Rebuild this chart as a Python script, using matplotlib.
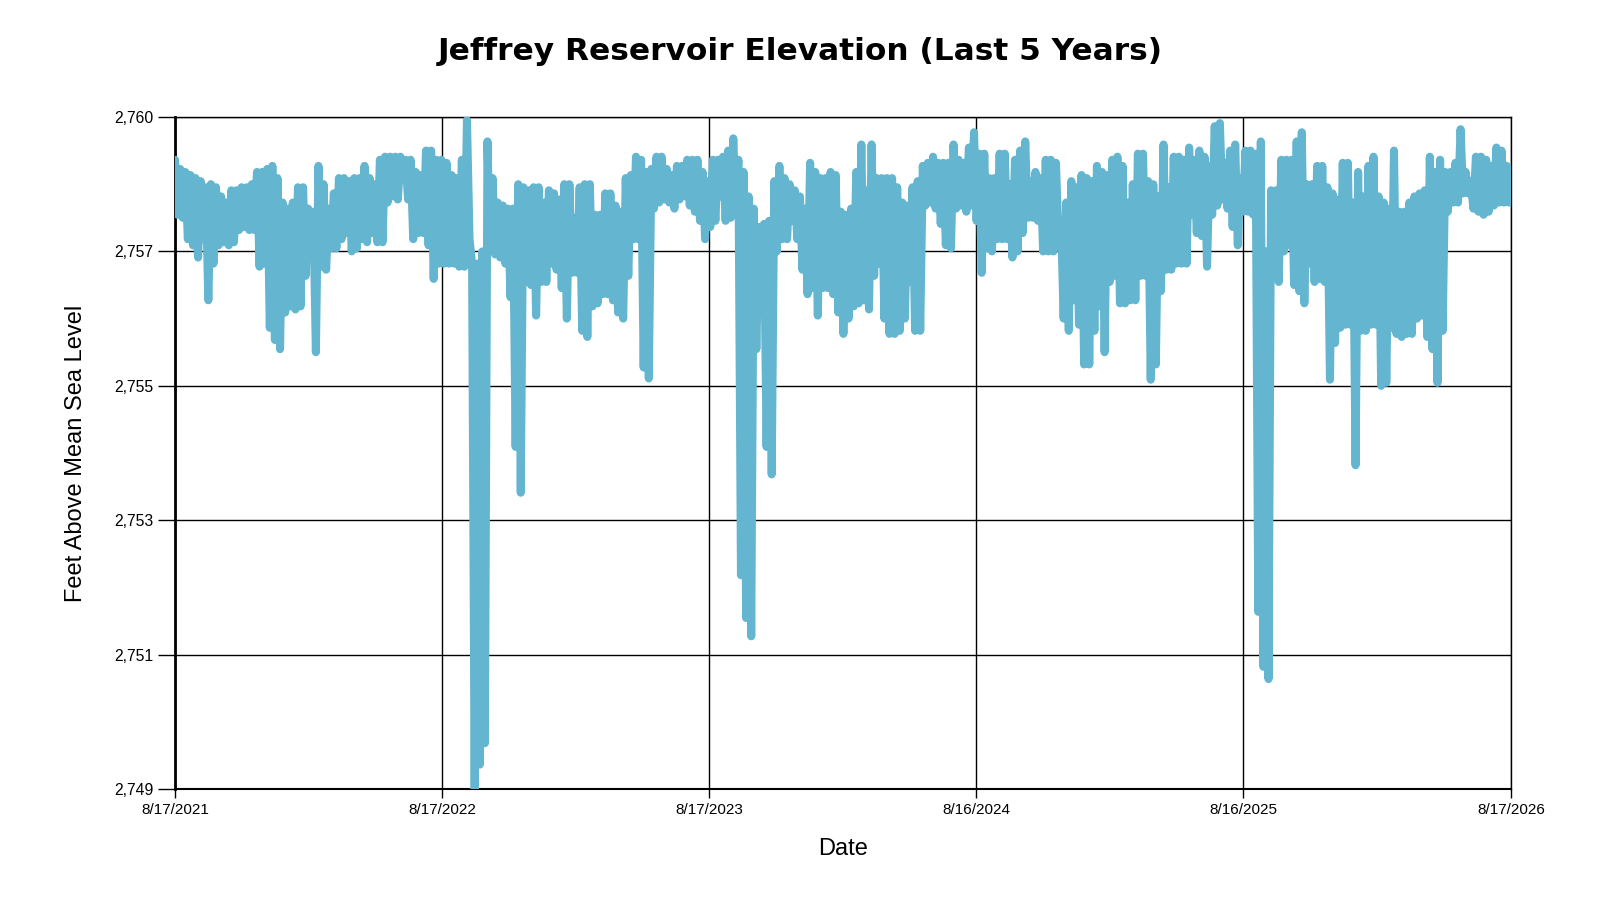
import numpy as np
import pandas as pd
import matplotlib
matplotlib.use("Agg")
import matplotlib.pyplot as plt
from matplotlib.ticker import FixedLocator, FuncFormatter
import matplotlib.dates as mdates

# weekly high / low readings (feet above mean sea level), week of 8/17/2021 onwards
elev_high = [
    2759.3, 2759.15, 2759.1, 2759.05, 2759.0, 2758.95, 2758.85, 2758.9, 2758.85, 2758.7,
    2758.6, 2758.8, 2758.8, 2758.85, 2758.85, 2758.9, 2759.1, 2759.1, 2759.15, 2759.2,
    2759.0, 2758.6, 2758.5, 2758.6, 2758.85, 2758.85, 2758.5, 2758.45, 2759.2, 2758.9,
    2758.5, 2758.75, 2759.0, 2759.0, 2758.95, 2759.0, 2759.0, 2759.2, 2759.0, 2758.9,
    2759.3, 2759.35, 2759.35, 2759.35, 2759.35, 2759.3, 2759.3, 2759.1, 2759.05, 2759.45,
    2759.45, 2759.3, 2759.3, 2759.25, 2759.05, 2759.0, 2759.3, 2759.95, 2757.6, 2757.6,
    2757.8, 2759.6, 2759.0, 2758.6, 2758.55, 2758.5, 2758.5, 2758.9, 2758.85, 2758.8,
    2758.85, 2758.85, 2758.6, 2758.8, 2758.75, 2758.65, 2758.9, 2758.9, 2758.35, 2758.85,
    2758.9, 2758.9, 2758.4, 2758.4, 2758.75, 2758.75, 2758.55, 2758.45, 2759.0, 2759.05,
    2759.35, 2759.3, 2759.1, 2759.15, 2759.35, 2759.35, 2759.15, 2759.05, 2759.2, 2759.2,
    2759.3, 2759.3, 2759.3, 2759.1, 2758.95, 2759.3, 2759.3, 2759.35, 2759.45, 2759.65,
    2759.3, 2759.1, 2758.7, 2758.5, 2758.2, 2758.25, 2758.3, 2758.95, 2759.2, 2759.0,
    2758.9, 2758.8, 2758.7, 2758.5, 2759.25, 2759.1, 2759.0, 2759.0, 2759.1, 2759.05,
    2758.45, 2758.4, 2758.5, 2759.1, 2759.55, 2758.8, 2759.55, 2759.0, 2759.0, 2759.0,
    2759.0, 2758.85, 2758.6, 2758.55, 2758.85, 2758.95, 2759.2, 2759.25, 2759.35, 2759.25,
    2759.25, 2759.25, 2759.55, 2759.3, 2759.25, 2759.5, 2759.75, 2759.4, 2759.4, 2759.0,
    2759.0, 2759.4, 2759.4, 2758.9, 2759.3, 2759.45, 2759.6, 2758.95, 2759.1, 2759.0,
    2759.3, 2759.3, 2759.25, 2758.3, 2758.6, 2758.95, 2758.85, 2759.05, 2759.0, 2758.95,
    2759.2, 2759.1, 2759.05, 2759.3, 2759.35, 2759.2, 2758.6, 2758.9, 2759.4, 2759.4,
    2758.95, 2758.9, 2758.7, 2759.55, 2758.85, 2759.35, 2759.35, 2759.3, 2759.5, 2759.3,
    2759.45, 2759.35, 2759.2, 2759.85, 2759.9, 2759.25, 2759.45, 2759.55, 2759.0, 2759.45,
    2759.45, 2759.4, 2759.6, 2757.8, 2758.8, 2758.8, 2759.3, 2759.3, 2759.3, 2759.6,
    2759.75, 2758.9, 2758.9, 2759.2, 2759.2, 2758.85, 2758.75, 2758.65, 2759.25, 2759.25,
    2758.6, 2759.1, 2758.7, 2759.2, 2759.35, 2758.7, 2758.6, 2758.5, 2759.45, 2758.45,
    2758.45, 2758.6, 2758.7, 2758.75, 2758.8, 2759.35, 2759.1, 2759.3, 2759.1, 2759.1,
    2759.25, 2759.8, 2759.1, 2758.95, 2759.35, 2759.35, 2759.3, 2759.2, 2759.5, 2759.45,
    2759.2,
]
elev_low = [
    2758.4, 2758.35, 2758.0, 2757.9, 2757.7, 2758.0, 2757.0, 2757.6, 2757.9, 2757.95,
    2757.9, 2757.95, 2758.15, 2758.2, 2758.15, 2758.15, 2757.55, 2757.6, 2756.55, 2756.35,
    2756.2, 2756.8, 2756.9, 2756.85, 2756.9, 2757.4, 2757.9, 2756.15, 2757.55, 2757.5,
    2757.85, 2757.85, 2758.0, 2758.1, 2757.8, 2757.85, 2758.0, 2757.95, 2758.1, 2757.95,
    2757.95, 2758.6, 2758.7, 2758.65, 2759.0, 2758.65, 2758.0, 2758.1, 2758.1, 2757.9,
    2757.35, 2757.6, 2757.6, 2757.6, 2757.6, 2757.55, 2757.55, 2758.0, 2749.0, 2749.4,
    2749.75, 2757.8, 2757.75, 2757.7, 2757.6, 2757.05, 2754.6, 2753.85, 2757.3, 2757.25,
    2756.75, 2757.3, 2757.3, 2757.6, 2757.5, 2757.2, 2756.7, 2757.45, 2757.45, 2756.5,
    2756.4, 2756.9, 2756.95, 2757.1, 2757.1, 2757.0, 2756.8, 2756.7, 2757.4, 2758.0,
    2758.0, 2755.9, 2755.72, 2758.5, 2758.6, 2758.65, 2758.6, 2758.5, 2758.65, 2758.7,
    2758.55, 2758.45, 2758.3, 2758.0, 2758.2, 2758.3, 2758.7, 2758.3, 2758.35, 2758.4,
    2752.5, 2751.8, 2751.5, 2756.2, 2756.85, 2754.6, 2754.15, 2757.8, 2758.0, 2758.0,
    2758.3, 2758.0, 2757.5, 2757.1, 2757.2, 2756.75, 2757.2, 2757.2, 2757.1, 2756.8,
    2756.45, 2756.7, 2756.9, 2756.95, 2757.0, 2756.85, 2757.4, 2757.6, 2756.7, 2756.45,
    2756.45, 2756.5, 2756.7, 2757.3, 2756.5, 2756.5, 2758.55, 2758.6, 2758.5, 2758.25,
    2757.9, 2757.85, 2758.5, 2758.55, 2758.45, 2758.55, 2758.3, 2757.45, 2757.85, 2757.8,
    2758.0, 2758.0, 2758.0, 2757.7, 2757.8, 2758.1, 2758.35, 2758.35, 2758.3, 2757.8,
    2757.8, 2757.8, 2758.0, 2756.7, 2756.5, 2757.0, 2756.6, 2755.95, 2755.95, 2756.5,
    2756.9, 2756.15, 2757.3, 2757.4, 2756.95, 2756.95, 2757.0, 2757.0, 2757.4, 2757.4,
    2755.7, 2755.95, 2757.15, 2757.5, 2757.5, 2757.6, 2757.6, 2757.6, 2758.4, 2758.1,
    2758.05, 2757.55, 2758.4, 2758.55, 2758.65, 2758.5, 2758.2, 2757.9, 2758.45, 2758.45,
    2758.4, 2751.9, 2751.0, 2750.8, 2757.6, 2757.3, 2757.8, 2757.9, 2757.25, 2757.15,
    2756.95, 2757.6, 2757.3, 2757.35, 2757.3, 2755.7, 2756.3, 2756.55, 2756.6, 2756.6,
    2754.3, 2756.5, 2756.5, 2756.6, 2756.6, 2755.6, 2755.65, 2756.55, 2756.45, 2756.4,
    2756.45, 2756.45, 2756.7, 2756.75, 2756.4, 2756.2, 2755.65, 2756.5, 2758.45, 2758.6,
    2758.6, 2758.75, 2758.75, 2758.5, 2758.45, 2758.4, 2758.45, 2758.55, 2758.6, 2758.6,
    2758.6,
]
weeks = pd.date_range("2021-08-17", periods=len(elev_high), freq="7D")

tick_dates = pd.to_datetime(["2021-08-17", "2022-08-17", "2023-08-17",
                             "2024-08-16", "2025-08-16", "2026-08-17"])
y_ticks = [2749 + 2.2 * k for k in range(6)]

# high reading at start of week, low reading mid-week
n = len(weeks)
t = np.empty(2 * n, dtype="datetime64[ns]")
t[0::2] = weeks.values
t[1::2] = (weeks + pd.Timedelta(hours=84)).values
v = np.empty(2 * n)
v[0::2] = elev_high
v[1::2] = elev_low

fig = plt.figure(figsize=(16, 9), dpi=100)
ax = fig.add_axes([0.1094, 0.1233, 0.835, 0.7467])

ax.plot(t, v, color="#64b5cf", linewidth=5.8, solid_joinstyle="round",
        solid_capstyle="round", zorder=3)

ax.set_xlim(tick_dates[0], tick_dates[-1])
ax.set_ylim(2749, 2760)

ax.xaxis.set_major_locator(FixedLocator(mdates.date2num(tick_dates)))
ax.xaxis.set_major_formatter(FuncFormatter(
    lambda x, p: (lambda d: f"{d.month}/{d.day}/{d.year}")(mdates.num2date(x))))
ax.yaxis.set_major_locator(FixedLocator(y_ticks))
ax.yaxis.set_major_formatter(FuncFormatter(lambda y, p: f"{int(np.floor(y + 1e-6)):,}"))

ax.grid(True, color="black", linewidth=1)
ax.set_axisbelow(True)
for s in ax.spines.values():
    s.set_color("black")
    s.set_linewidth(1)
ax.spines["left"].set_linewidth(2)
ax.spines["bottom"].set_linewidth(1.5)
ax.tick_params(axis="y", length=12, width=1, pad=3.5, labelsize=11.3, colors="black")
ax.tick_params(axis="x", length=6.5, width=1, pad=3.5, labelsize=11, colors="black")
for lab in ax.get_xticklabels() + ax.get_yticklabels():
    lab.set_family("Liberation Sans")

fig.text(843 / 1600, 1 - 849 / 900, "Date", ha="center", va="center",
         fontsize=17, family="Liberation Sans")
fig.text(76 / 1600, 1 - 453 / 900, "Feet Above Mean Sea Level", ha="center", va="center",
         rotation=90, fontsize=17, family="Liberation Sans")
fig.text(0.5, 0.943, "Jeffrey Reservoir Elevation (Last 5 Years)", ha="center", va="center",
         fontsize=22.5, fontweight="bold", family="DejaVu Sans")

fig.savefig("out.png", dpi=100)
